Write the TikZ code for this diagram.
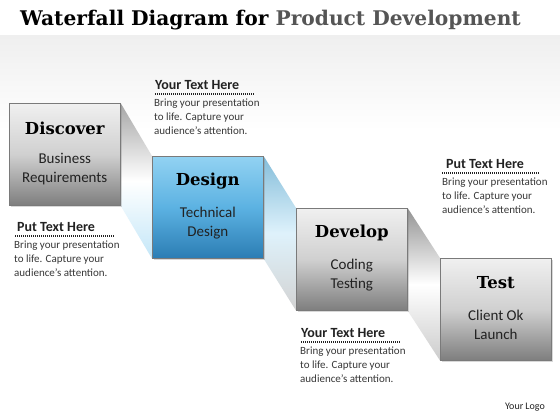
\documentclass[tikz,border=0pt]{standalone}
\usepackage{fontspec}
\setmainfont{Carlito}
\newfontfamily\slab{DejaVu Serif}
\usetikzlibrary{shadows}
\definecolor{bggray}{HTML}{EFEFEF}
\definecolor{boxline}{HTML}{7A7A7A}
\definecolor{gtop}{HTML}{F0F0F0}
\definecolor{gmid}{HTML}{D0D0D0}
\definecolor{gbot}{HTML}{7E7E7E}
\definecolor{btop}{HTML}{92D2F2}
\definecolor{bmid}{HTML}{5CB2E2}
\definecolor{bbot}{HTML}{2B7DB4}
\definecolor{txt}{HTML}{383838}
\definecolor{hdr}{HTML}{222222}
\definecolor{titlegray}{HTML}{555555}
\pgfdeclarelayer{bg}
\pgfsetlayers{bg,main}
\begin{document}
\begin{tikzpicture}[x=1pt,y=-1pt,
  boxbase/.style={draw=boxline, line width=0.6pt, minimum width=111pt, minimum height=102pt,
    anchor=north west, inner sep=0pt,
    drop shadow={opacity=0.3, shadow xshift=2pt, shadow yshift=-2pt}},
  graybox/.style={boxbase, top color=gtop, bottom color=gbot, middle color=gmid},
  bluebox/.style={boxbase, top color=btop, bottom color=bbot, middle color=bmid},
  boxtitle/.style={font=\slab\bfseries\fontsize{16.5}{19}\selectfont, text=black, inner sep=0pt},
  boxsub/.style={font=\fontsize{15}{19}\selectfont, text=hdr, align=center, inner sep=0pt},
  hdrtext/.style={font=\bfseries\fontsize{14}{16}\selectfont, text=hdr, anchor=west, inner sep=0pt},
  bodytext/.style={font=\fontsize{11}{13.6}\selectfont, text=txt, anchor=north west, align=left, inner sep=0pt},
  dotline/.style={draw=hdr, line width=1.1pt, dash pattern=on 1pt off 1pt}
]
\useasboundingbox (0,0) rectangle (560,420);
\begin{pgfonlayer}{bg}
  \fill[white] (0,0) rectangle (560,420);
  \shade[top color=bggray, bottom color=white] (0,36) rectangle (560,130);
\end{pgfonlayer}

% title
\node[anchor=west, inner sep=0pt] (title) at (20,20)
  {\slab\bfseries\fontsize{20.2}{24}\selectfont Waterfall Diagram for \textcolor{titlegray}{Product Development}};

% boxes
\node[graybox] (disc) at (9,103) {};
\node[bluebox] (des) at (152,156) {};
\node[graybox] (dev) at (296,208) {};
\node[graybox] (test) at (440,258) {};

% connectors
\begin{pgfonlayer}{bg}
  \shade[top color=gray!70, bottom color=btop!55, middle color=white]
    (disc.north east) -- (des.north west) -- (des.south west) -- (disc.south east) -- cycle;
  \shade[top color=btop!90!black, bottom color=gray!35, middle color=btop!30]
    (des.north east) -- (dev.north west) -- (dev.south west) -- (des.south east) -- cycle;
  \shade[top color=gray!85, bottom color=gray!40, middle color=white]
    (dev.north east) -- (test.north west) -- (test.south west) -- (dev.south east) -- cycle;
\end{pgfonlayer}

% box labels
\node[boxtitle] (discT) at ([yshift=-25pt]disc.north) {Discover};
\node[boxsub] (discS) at ([yshift=-66pt]disc.north) {Business\\Requirements};
\node[boxtitle] (desT) at ([yshift=-25pt]des.north) {Design};
\node[boxsub] (desS) at ([yshift=-67pt]des.north) {Technical\\Design};
\node[boxtitle] (devT) at ([yshift=-25pt]dev.north) {Develop};
\node[boxsub] (devS) at ([yshift=-67pt]dev.north) {Coding\\Testing};
\node[boxtitle] (testT) at ([yshift=-25pt]test.north) {Test};
\node[boxsub] (testS) at ([yshift=-67pt]test.north) {Client Ok\\Launch};

% text blocks
\node[hdrtext] (h1) at (155,85) {Your Text Here};
\coordinate (d1a) at (155,94); \coordinate (d1b) at (254,94);
\draw[dotline] (d1a) -- (d1b);
\node[bodytext] (b1) at (154,99) {Bring your presentation\\to life. Capture your\\audience’s attention.};

\node[hdrtext] (h2) at (17,227) {Put Text Here};
\coordinate (d2a) at (15,236); \coordinate (d2b) at (114,236);
\draw[dotline] (d2a) -- (d2b);
\node[bodytext] (b2) at (14,241) {Bring your presentation\\to life. Capture your\\audience’s attention.};

\node[hdrtext] (h3) at (446,164) {Put Text Here};
\coordinate (d3a) at (442,173); \coordinate (d3b) at (540,173);
\draw[dotline] (d3a) -- (d3b);
\node[bodytext] (b3) at (442,178) {Bring your presentation\\to life. Capture your\\audience’s attention.};

\node[hdrtext] (h4) at (301,333) {Your Text Here};
\coordinate (d4a) at (301,342); \coordinate (d4b) at (400,342);
\draw[dotline] (d4a) -- (d4b);
\node[bodytext] (b4) at (300,347) {Bring your presentation\\to life. Capture your\\audience’s attention.};

\node[font=\fontsize{10}{11}\selectfont, text=hdr, inner sep=0pt] (logo) at (525,407) {Your Logo};
\end{tikzpicture}
\end{document}
